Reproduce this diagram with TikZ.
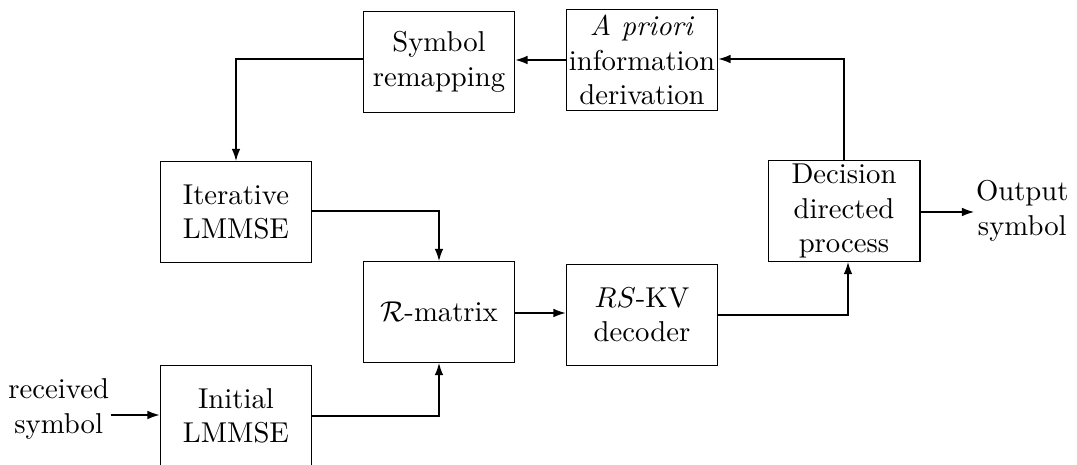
\documentclass[tikz,border=0pt]{standalone}
\usetikzlibrary{arrows.meta}
\begin{document}
\begin{tikzpicture}[x=0.3484pt,y=-0.3484pt,
  blk/.style={draw,thin,minimum width=52.9pt,minimum height=35.2pt,inner sep=1pt,align=center,font=\normalsize},
  lbl/.style={align=center,inner sep=0.5pt},
  conn/.style={thin,-{Latex[length=4.2pt,width=3pt]}}]
\useasboundingbox (0,0) rectangle (1077,465);
\node[blk] (sym) at (439,62) {Symbol\\remapping};
\node[blk] (apr) at (642,60) {\emph{A priori}\\information\\derivation};
\node[blk] (itr) at (236,212) {Iterative\\LMMSE};
\node[blk] (dec) at (844,211) {Decision\\directed\\process};
\node[blk] (rmx) at (439,312) {$\mathcal{R}$-matrix};
\node[blk] (rsk) at (642,315) {$RS$-KV\\decoder};
\node[blk] (ini) at (236,416) {Initial\\LMMSE};
\node[lbl,anchor=west] (out) at (974,211) {Output\\symbol};
\node[lbl,anchor=east] (rcv) at (111,409) {received\\symbol};
\coordinate (tl) at (236,59);
\coordinate (tr) at (844,59);
\coordinate (k1) at (439,211);
\coordinate (k2) at (439,416);
\coordinate (k3) at (848,315);
\draw[conn] (apr.west |- 0,60) -- (sym.east |- 0,60);
\draw[conn] (sym.west |- tl) -- (tl) -- (itr.north);
\draw[conn] (itr.east |- k1) -- (k1) -- (rmx.north);
\draw[conn] (ini.east |- k2) -- (k2) -- (rmx.south);
\draw[conn] (rmx.east |- 0,313) -- (rsk.west |- 0,313);
\draw[conn] (rsk.east |- k3) -- (k3) -- (k3 |- dec.south);
\draw[conn] (dec.north) -- (tr) -- (apr.east |- tr);
\draw[conn] (dec.east |- 0,212) -- (out.west |- 0,212);
\draw[conn] (rcv.east |- 0,415) -- (ini.west |- 0,415);
\end{tikzpicture}
\end{document}
